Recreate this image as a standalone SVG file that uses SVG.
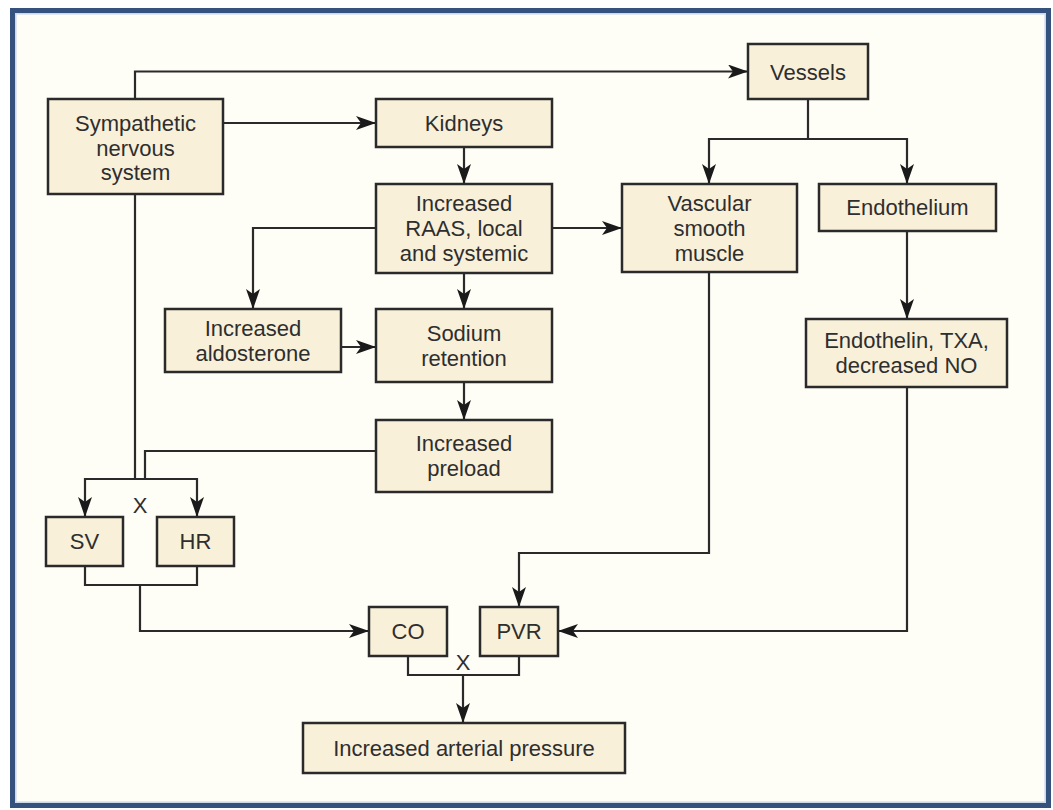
<svg xmlns="http://www.w3.org/2000/svg" width="1053" height="810" viewBox="0 0 1053 810">
  <style>
    .box { fill: #f9f0da; stroke: #2a2a2a; stroke-width: 2.5; }
    .lbl { font-family: "Liberation Sans", Arial, sans-serif; font-size: 22px; fill: #2e2e2e; text-anchor: middle; dominant-baseline: central; }
    .wire { fill: none; stroke: #2a2a2a; stroke-width: 2.2; }
    .arr { marker-end: url(#head); }
  </style>
  <defs>
    <marker id="head" viewBox="0 0 20 14" refX="20" refY="7" markerWidth="20" markerHeight="14" markerUnits="userSpaceOnUse" orient="auto">
      <path d="M0,0 L20,7 L0,14 L5,7 Z" fill="#1a1a1a"/>
    </marker>
  </defs>

  <!-- page and frame -->
  <rect x="0" y="0" width="1053" height="810" fill="#ffffff"/>
  <rect x="12.5" y="10.5" width="1036" height="795" fill="#fefdf6" stroke="#34527d" stroke-width="5"/>
  <rect x="15.8" y="13.8" width="1029.4" height="788.4" fill="none" stroke="#c9d8ea" stroke-width="1.5"/>

  <!-- connectors -->
  <g id="connectors">
    <path class="wire arr" d="M135,99 V71.5 H748"/>
    <path class="wire arr" d="M223,123 H376"/>
    <path class="wire arr" d="M464,147 V184"/>
    <path class="wire arr" d="M552,228 H622"/>
    <path class="wire arr" d="M808,99 V139 H709 V184"/>
    <path class="wire arr" d="M808,139 H907 V184"/>
    <path class="wire arr" d="M907,231 V319"/>
    <path class="wire arr" d="M907,387 V631 H558"/>
    <path class="wire arr" d="M709,272 V553 H519 V607"/>
    <path class="wire arr" d="M376,228 H253 V309"/>
    <path class="wire arr" d="M341,347 H376"/>
    <path class="wire arr" d="M464,273 V309"/>
    <path class="wire arr" d="M464,382 V420"/>
    <path class="wire" d="M376,451 H145 V479"/>
    <path class="wire" d="M135,194 V479"/>
    <path class="wire arr" d="M140,479 H85 V517"/>
    <path class="wire arr" d="M140,479 H197 V517"/>
    <path class="wire" d="M85,566 V585 H197 V566"/>
    <path class="wire arr" d="M140,585 V631 H369"/>
    <path class="wire" d="M408,656 V675 H519 V656"/>
    <path class="wire arr" d="M463,675 V723"/>
    <text class="lbl" x="140" y="505">X</text>
    <text class="lbl" x="463" y="662">X</text>
  </g>

  <!-- nodes -->
  <g id="sympathetic">
    <rect class="box" x="48" y="99" width="175" height="95"/>
    <text class="lbl" x="135.5" y="123">Sympathetic</text>
    <text class="lbl" x="135.5" y="148">nervous</text>
    <text class="lbl" x="135.5" y="172">system</text>
  </g>
  <g id="vessels">
    <rect class="box" x="748" y="44" width="120" height="55"/>
    <text class="lbl" x="808" y="72">Vessels</text>
  </g>
  <g id="kidneys">
    <rect class="box" x="376" y="99" width="176" height="48"/>
    <text class="lbl" x="464" y="123">Kidneys</text>
  </g>
  <g id="raas">
    <rect class="box" x="376" y="184" width="176" height="89"/>
    <text class="lbl" x="464" y="203">Increased</text>
    <text class="lbl" x="464" y="228">RAAS, local</text>
    <text class="lbl" x="464" y="253">and systemic</text>
  </g>
  <g id="vsm">
    <rect class="box" x="622" y="184" width="175" height="88"/>
    <text class="lbl" x="709.5" y="203">Vascular</text>
    <text class="lbl" x="709.5" y="228">smooth</text>
    <text class="lbl" x="709.5" y="253">muscle</text>
  </g>
  <g id="endothelium">
    <rect class="box" x="819" y="184" width="177" height="47"/>
    <text class="lbl" x="907.5" y="207">Endothelium</text>
  </g>
  <g id="endothelin">
    <rect class="box" x="806" y="319" width="201" height="68"/>
    <text class="lbl" x="906.5" y="340">Endothelin, TXA,</text>
    <text class="lbl" x="906.5" y="365">decreased NO</text>
  </g>
  <g id="aldosterone">
    <rect class="box" x="165" y="309" width="176" height="63"/>
    <text class="lbl" x="253" y="328">Increased</text>
    <text class="lbl" x="253" y="353">aldosterone</text>
  </g>
  <g id="sodium">
    <rect class="box" x="376" y="309" width="176" height="73"/>
    <text class="lbl" x="464" y="333">Sodium</text>
    <text class="lbl" x="464" y="358">retention</text>
  </g>
  <g id="preload">
    <rect class="box" x="376" y="420" width="176" height="72"/>
    <text class="lbl" x="464" y="443">Increased</text>
    <text class="lbl" x="464" y="468">preload</text>
  </g>
  <g id="sv">
    <rect class="box" x="46" y="517" width="77" height="49"/>
    <text class="lbl" x="84.5" y="541.5">SV</text>
  </g>
  <g id="hr">
    <rect class="box" x="157" y="517" width="77" height="49"/>
    <text class="lbl" x="195.5" y="541.5">HR</text>
  </g>
  <g id="co">
    <rect class="box" x="369" y="607" width="78" height="49"/>
    <text class="lbl" x="408" y="631.5">CO</text>
  </g>
  <g id="pvr">
    <rect class="box" x="480" y="607" width="78" height="49"/>
    <text class="lbl" x="519" y="631.5">PVR</text>
  </g>
  <g id="arterial">
    <rect class="box" x="303" y="723" width="322" height="50"/>
    <text class="lbl" x="464" y="748">Increased arterial pressure</text>
  </g>
</svg>
